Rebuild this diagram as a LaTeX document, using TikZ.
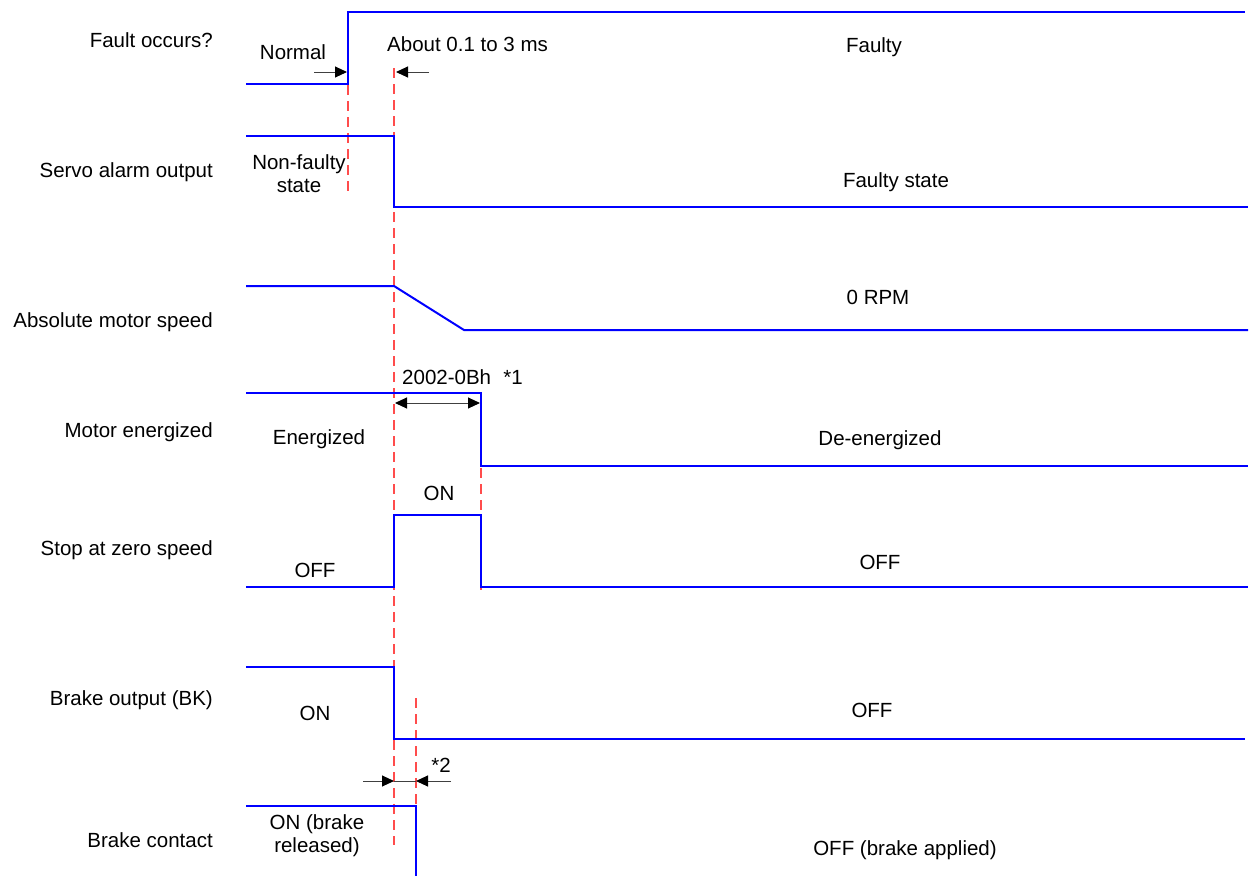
\documentclass[tikz,border=0pt]{standalone}
\usepackage{fontspec}
\setmainfont{Liberation Sans}
\usetikzlibrary{arrows.meta}

\begin{document}
\begin{tikzpicture}[x=1pt, y=-1pt,
        font=\fontsize{20.5}{23}\selectfont,
        every node/.style={inner sep=0pt},
        sig/.style={blue, line width=2pt},
        guide/.style={red!70, line width=1.2pt, dash pattern=on 10pt off 6pt},
        dimline/.style={black!75, line width=1pt},
        dimtip/.tip={Triangle[length=12pt,width=11pt,color=black]},
        dimarrow/.style={dimline, -dimtip},
        signame/.style={anchor=east}]
    \useasboundingbox (0,0) rectangle (1256,876);

    % Signal names
    \node[signame] (nFault) at (213,40) {Fault occurs?};
    \node[signame] (nAlarm) at (213,172) {Servo alarm output};
    \node[signame] (nSpeed) at (213,322) {Absolute motor speed};
    \node[signame] (nEnerg) at (213,432) {Motor energized};
    \node[signame] (nZero) at (213,550) {Stop at zero speed};
    \node[signame] (nBk) at (213,700) {Brake output (BK)};
    \node[signame] (nBrake) at (213,840) {Brake contact};

    % Timing guides
    \draw[guide] (348,53) -- (348,192);
    \draw[guide] (394,68) -- (394,845);
    \draw[guide] (481,468) -- (481,590);
    \draw[guide] (416,698) -- (416,845);

    % Fault occurs?
    \draw[sig] (246,84) -- (348,84) -- (348,12) -- (1245,12);
    \node (tNormal) at (293,52) {Normal};
    \node (tFaulty) at (874,47) {Faulty};
    \node[anchor=west] (tAbout) at (387,44) {About 0.1 to 3 ms};
    \draw[dimarrow] (314,72) -- (347,72);
    \draw[dimarrow] (429,72) -- (396,72);

    % Servo alarm output
    \draw[sig] (246,136) -- (394,136) -- (394,207) -- (1248,207);
    \node[align=center] (tNonFault) at (299,174) {Non-faulty\\state};
    \node (tFaultSt) at (896,182) {Faulty state};

    % Absolute motor speed
    \draw[sig] (246,286) -- (394,286) -- (464,330) -- (1248,330);
    \node (tRpm) at (878,297) {0 RPM};

    % Motor energized
    \draw[sig] (246,393) -- (481,393) -- (481,466) -- (1248,466);
    \node[anchor=west] (tDelay) at (402,377) {2002-0Bh\hspace{0.6em}*1};
    \draw[dimline, dimtip-dimtip] (395,403) -- (480,403);
    \node (tEnerg) at (319,439) {Energized};
    \node (tDeEnerg) at (880,440) {De-energized};

    % Stop at zero speed
    \draw[sig] (246,587) -- (394,587) -- (394,515) -- (481,515) -- (481,587) -- (1248,587);
    \node (tZeroOn) at (439,493) {ON};
    \node (tZeroOff) at (315,570) {OFF};
    \node (tZeroOff2) at (880,562) {OFF};

    % Brake output (BK)
    \draw[sig] (246,667) -- (394,667) -- (394,739) -- (1245,739);
    \node (tBkOn) at (315,713) {ON};
    \node (tBkOff) at (872,710) {OFF};
    \draw[dimarrow] (363,781) -- (394,781);
    \draw[dimline] (394,781) -- (416,781);
    \draw[dimarrow] (451,781) -- (416,781);
    \node (tStar) at (441,765) {*2};

    % Brake contact
    \draw[sig] (246,806) -- (416,806) -- (416,876);
    \node[align=center] (tBrakeOn) at (317,836) {ON (brake\\released)};
    \node (tBrakeOff) at (905,850) {OFF (brake applied)};
\end{tikzpicture}
\end{document}
